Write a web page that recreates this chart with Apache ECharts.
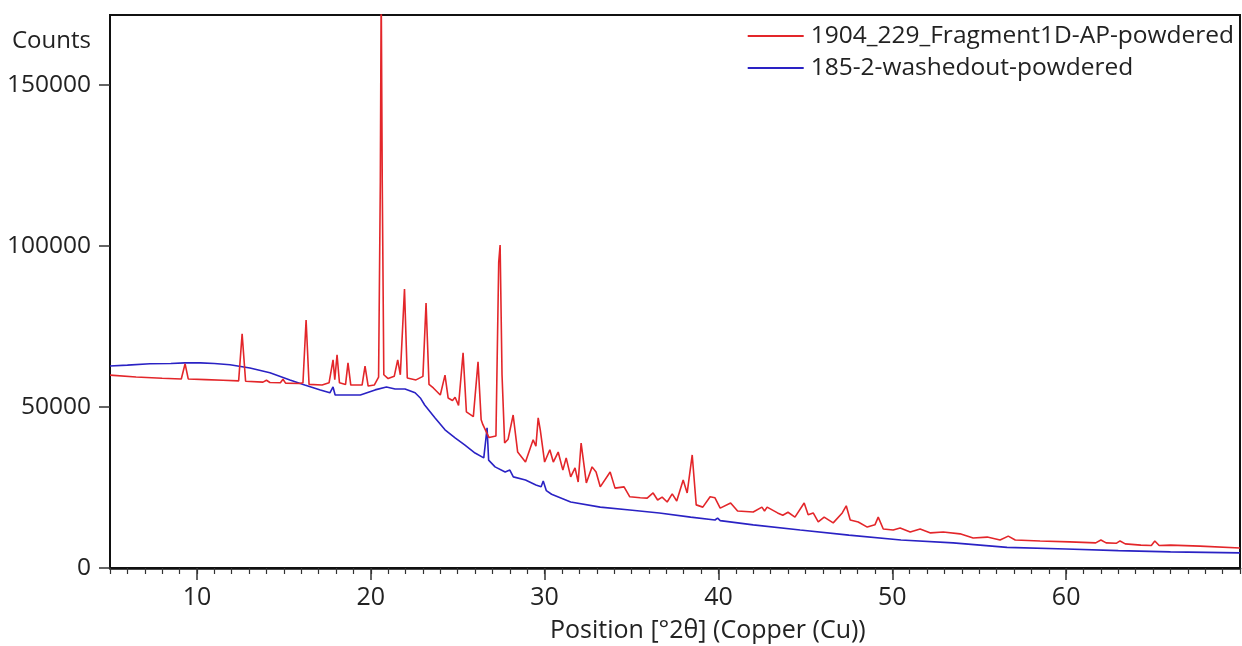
<!DOCTYPE html>
<html>
<head>
<meta charset="utf-8">
<script src="https://cdn.jsdelivr.net/npm/echarts@6/dist/echarts.min.js"></script>
<style>
html,body{margin:0;padding:0;background:#fff;}
#chart{width:1242px;height:646px;}
</style>
</head>
<body>
<div id="chart"></div>
<script>
// ---- data ----
const seriesNames = ['1904_229_Fragment1D-AP-powdered', '185-2-washedout-powdered'];
const xTickLabels = [10, 20, 30, 40, 50, 60];
const yTickLabels = [0, 50000, 100000, 150000];
const xRange = [5, 70];
const yRange = [0, 171700];

// [2θ, counts]
const redPoints = [
[5.0,59900],[6.5,59300],[8.0,58900],[9.1,58700],[9.32,63400],[9.5,58700],[10.5,58500],[11.5,58300],
[12.4,58100],[12.6,72700],[12.8,58000],[13.8,57700],[14.0,58300],[14.2,57600],[14.8,57500],[14.95,58600],
[15.1,57400],[15.9,57300],[16.1,57500],[16.28,77000],[16.45,57000],[17.2,56800],[17.6,57500],[17.83,64600],
[17.93,58500],[18.06,66200],[18.2,57500],[18.55,57000],[18.69,63700],[18.85,56800],[19.5,56800],[19.67,62700],
[19.85,56500],[20.2,56800],[20.45,59300],[20.55,120000],[20.6,180000],[20.66,120000],[20.75,60000],[21.0,58800],
[21.35,59500],[21.55,64600],[21.7,60000],[21.94,86600],[22.1,59000],[22.6,58400],[23.0,59500],[23.18,82300],
[23.35,57000],[23.6,55900],[24.0,53700],[24.27,59900],[24.45,52800],[24.7,52000],[24.85,53000],[25.05,50500],
[25.31,66800],[25.5,48500],[25.9,47000],[26.17,64000],[26.35,46000],[26.45,44500],[26.8,40500],[27.2,41000],
[27.36,95000],[27.44,100300],[27.55,60000],[27.7,38800],[27.9,40000],[28.19,47500],[28.45,36000],[28.9,32900],
[29.34,39800],[29.5,37800],[29.63,46600],[29.75,42900],[30.0,32900],[30.3,36700],[30.5,32900],[30.78,36000],
[31.05,30400],[31.24,34200],[31.5,28300],[31.75,31100],[31.93,26700],[32.1,38800],[32.4,26400],[32.73,31400],
[32.96,29800],[33.2,25200],[33.77,29800],[34.05,24800],[34.57,25200],[34.9,22100],[35.5,21800],[35.9,21700],
[36.24,23300],[36.5,21100],[36.76,22000],[37.05,20500],[37.34,23000],[37.6,20800],[37.97,27300],[38.2,23300],
[38.49,35100],[38.72,19600],[39.1,18900],[39.52,22100],[39.8,21800],[40.1,18600],[40.7,20200],[41.1,17700],
[42.0,17400],[42.5,18900],[42.65,17700],[42.8,18900],[43.4,17100],[43.7,16400],[44.0,17300],[44.4,15800],
[44.93,20200],[45.16,16500],[45.45,17100],[45.74,14300],[46.08,15800],[46.6,14000],[47.12,17100],[47.35,19300],
[47.58,14900],[48.04,14300],[48.56,12700],[49.0,13400],[49.19,15800],[49.48,12100],[50.05,11800],[50.45,12400],
[51.03,11200],[51.6,12100],[52.2,10900],[52.93,11200],[53.9,10600],[54.65,9300],[55.46,9600],[56.2,8700],
[56.67,9900],[57.07,8700],[58.5,8400],[60.2,8100],[61.7,7800],[62.0,8700],[62.3,7800],[62.9,7700],
[63.1,8400],[63.4,7500],[64.3,7100],[64.9,7000],[65.1,8400],[65.35,7000],[66.0,7100],[67.7,6800],[70.0,6200]
];

const bluePoints = [
[5.0,62700],[6.0,63000],[7.3,63400],[8.5,63500],[9.3,63700],[10.2,63700],[11.0,63500],[11.9,63100],
[13.05,62100],[14.2,60600],[15.35,58400],[16.2,56800],[17.1,55300],[17.65,54400],[17.83,56200],[17.95,53700],
[18.5,53700],[19.4,53700],[20.25,55300],[20.9,56200],[21.4,55600],[21.97,55600],[22.55,54400],[22.85,52800],
[23.1,50600],[23.7,46600],[24.27,42900],[24.85,40400],[25.4,38200],[26.0,35700],[26.5,34200],[26.62,40000],
[26.69,43500],[26.78,33500],[27.15,31400],[27.73,29800],[28.0,30400],[28.2,28300],[28.9,27300],[29.5,25800],
[29.8,25200],[29.92,27000],[30.1,24000],[30.4,22900],[31.5,20500],[33.2,18900],[34.9,18000],[36.6,17100],
[38.4,15800],[39.8,14900],[39.95,15500],[40.1,14700],[42.0,13400],[44.7,11800],[47.5,10200],[50.5,8700],
[53.5,7800],[56.6,6400],[60.0,5900],[63.0,5400],[66.0,5000],[70.0,4700]
];

const colors = ['#e3262a', '#2a22c4'];
const font = 'Open Sans';
const textColor = '#222';

const chart = echarts.init(document.getElementById('chart'), null, {renderer: 'canvas'});
chart.setOption({
  animation: false,
  backgroundColor: '#fff',
  grid: {left: 110, right: 2, top: 15, bottom: 78, show: true, borderColor: '#111', borderWidth: 2, backgroundColor: 'transparent'},
  legend: {
    orient: 'vertical', right: 3, top: 16, itemWidth: 56, itemHeight: 2, itemGap: 2,
    icon: 'rect',
    data: seriesNames,
    textStyle: {fontFamily: font, fontSize: 24.5, color: textColor, padding: [0, 0, 0, 2], lineHeight: 30}
  },
  xAxis: [{
    type: 'value', min: xRange[0], max: xRange[1],
    axisLine: {show: true, lineStyle: {color: '#111', width: 2.5}},
    axisTick: {show: true, customValues: xTickLabels, length: 12, lineStyle: {color: '#333', width: 1.5}},
    axisLabel: {customValues: xTickLabels, fontFamily: font, fontSize: 25, color: textColor, margin: 17},
    splitLine: {show: false}
  }, {
    type: 'value', min: xRange[0], max: xRange[1], interval: 1, position: 'bottom',
    axisLine: {show: false},
    axisTick: {show: true, length: 6, lineStyle: {color: '#333', width: 1.2}},
    axisLabel: {show: false},
    splitLine: {show: false}
  }],
  yAxis: {
    type: 'value', min: yRange[0], max: yRange[1],
    axisLine: {show: true, lineStyle: {color: '#111', width: 2}},
    axisTick: {show: true, customValues: yTickLabels, length: 11, lineStyle: {color: '#333', width: 1.5}},
    axisLabel: {customValues: yTickLabels, fontFamily: font, fontSize: 24.5, color: textColor, margin: 19, formatter: v => String(v)},
    splitLine: {show: false}
  },
  graphic: [
    {type: 'text', left: 12, top: 29, style: {text: 'Counts', font: '24px "Open Sans"', fill: textColor}},
    {type: 'text', left: 550, top: 618, style: {text: 'Position [°2θ] (Copper (Cu))', font: '25px "Open Sans"', fill: textColor}}
  ],
  series: [{
    name: seriesNames[0], type: 'line', data: redPoints, symbol: 'none', xAxisIndex: 0,
    lineStyle: {color: colors[0], width: 1.6}, itemStyle: {color: colors[0]}, clip: true, z: 3
  }, {
    name: seriesNames[1], type: 'line', data: bluePoints, symbol: 'none', xAxisIndex: 0,
    lineStyle: {color: colors[1], width: 1.6}, itemStyle: {color: colors[1]}, clip: true, z: 2
  }]
});
</script>
</body>
</html>
